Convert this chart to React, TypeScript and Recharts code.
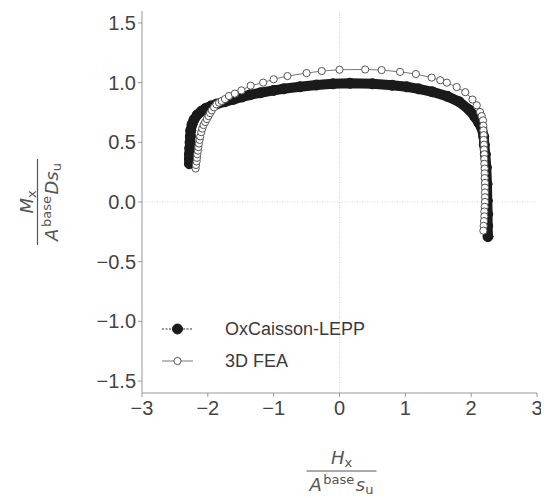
import React from 'react';
import { ComposedChart, Line, XAxis, YAxis, ReferenceLine, Legend, Label } from 'recharts';

// OxCaisson-LEPP (dense black markers)
const lepp = [
  { x: -2.28, y: 0.32 }, { x: -2.28, y: 0.36 }, { x: -2.28, y: 0.40 }, { x: -2.275, y: 0.45 },
  { x: -2.27, y: 0.50 }, { x: -2.265, y: 0.55 }, { x: -2.26, y: 0.60 }, { x: -2.24, y: 0.65 },
  { x: -2.21, y: 0.69 }, { x: -2.16, y: 0.73 }, { x: -2.10, y: 0.76 }, { x: -2.03, y: 0.785 },
  { x: -1.95, y: 0.805 }, { x: -1.87, y: 0.82 }, { x: -1.74, y: 0.84 }, { x: -1.61, y: 0.86 },
  { x: -1.48, y: 0.88 }, { x: -1.36, y: 0.898 }, { x: -1.2, y: 0.915 }, { x: -1.0, y: 0.935 },
  { x: -0.85, y: 0.948 }, { x: -0.6, y: 0.965 }, { x: -0.35, y: 0.98 }, { x: -0.1, y: 0.99 },
  { x: 0.16, y: 0.995 }, { x: 0.5, y: 0.99 }, { x: 0.8, y: 0.978 }, { x: 1.02, y: 0.965 },
  { x: 1.2, y: 0.948 }, { x: 1.41, y: 0.923 }, { x: 1.64, y: 0.885 }, { x: 1.82, y: 0.839 },
  { x: 1.97, y: 0.772 }, { x: 2.06, y: 0.71 }, { x: 2.12, y: 0.66 }, { x: 2.16, y: 0.62 },
  { x: 2.19, y: 0.55 }, { x: 2.2, y: 0.48 }, { x: 2.215, y: 0.40 }, { x: 2.23, y: 0.29 },
  { x: 2.24, y: 0.15 }, { x: 2.245, y: 0.01 }, { x: 2.25, y: -0.1 }, { x: 2.25, y: -0.2 },
  { x: 2.255, y: -0.29 },
];

// 3D FEA (white markers)
const fea = [
  { x: -2.185, y: 0.28 }, { x: -2.18, y: 0.31 }, { x: -2.17, y: 0.34 }, { x: -2.165, y: 0.37 },
  { x: -2.16, y: 0.40 }, { x: -2.15, y: 0.43 }, { x: -2.145, y: 0.46 }, { x: -2.135, y: 0.49 },
  { x: -2.125, y: 0.52 }, { x: -2.115, y: 0.55 }, { x: -2.1, y: 0.585 }, { x: -2.085, y: 0.615 },
  { x: -2.065, y: 0.645 }, { x: -2.04, y: 0.67 }, { x: -2.015, y: 0.695 }, { x: -1.99, y: 0.72 },
  { x: -1.965, y: 0.745 }, { x: -1.94, y: 0.768 }, { x: -1.905, y: 0.793 }, { x: -1.87, y: 0.818 },
  { x: -1.83, y: 0.832 }, { x: -1.79, y: 0.846 }, { x: -1.74, y: 0.862 }, { x: -1.68, y: 0.888 },
  { x: -1.59, y: 0.908 }, { x: -1.49, y: 0.935 }, { x: -1.35, y: 0.975 }, { x: -1.16, y: 1.0 },
  { x: -1.0, y: 1.028 }, { x: -0.79, y: 1.055 }, { x: -0.5, y: 1.08 }, { x: -0.27, y: 1.097 },
  { x: 0.0, y: 1.108 }, { x: 0.39, y: 1.11 }, { x: 0.64, y: 1.105 }, { x: 0.92, y: 1.09 },
  { x: 1.16, y: 1.072 }, { x: 1.40, y: 1.042 }, { x: 1.53, y: 1.02 }, { x: 1.63, y: 1.0 },
  { x: 1.78, y: 0.963 }, { x: 1.91, y: 0.92 }, { x: 2.02, y: 0.858 }, { x: 2.085, y: 0.81 },
  { x: 2.135, y: 0.754 }, { x: 2.16, y: 0.72 }, { x: 2.18, y: 0.684 }, { x: 2.185, y: 0.64 },
  { x: 2.185, y: 0.60 }, { x: 2.19, y: 0.56 }, { x: 2.19, y: 0.52 }, { x: 2.195, y: 0.48 },
  { x: 2.195, y: 0.44 }, { x: 2.2, y: 0.40 }, { x: 2.2, y: 0.36 }, { x: 2.2, y: 0.32 },
  { x: 2.205, y: 0.28 }, { x: 2.205, y: 0.24 }, { x: 2.205, y: 0.20 }, { x: 2.21, y: 0.16 },
  { x: 2.21, y: 0.12 }, { x: 2.21, y: 0.08 }, { x: 2.21, y: 0.04 }, { x: 2.21, y: 0.0 },
  { x: 2.205, y: -0.04 }, { x: 2.2, y: -0.08 }, { x: 2.2, y: -0.12 }, { x: 2.195, y: -0.16 },
  { x: 2.19, y: -0.2 }, { x: 2.185, y: -0.24 },
];

const xTicks = [-3, -2, -1, 0, 1, 2, 3];
const yTicks = [-1.5, -1.0, -0.5, 0.0, 0.5, 1.0, 1.5];
const seriesNames = ['OxCaisson-LEPP', '3D FEA'];

const minus = (s: string) => s.replace('-', '\u2212');
const tickFont = { fill: '#444', fontSize: 20, fontFamily: 'Liberation Sans, Arial, sans-serif' };
const labelFont = 'DejaVu Sans, sans-serif';
const MAIN = 18;
const SCRIPT = 13;

const XLabel = (props: any) => {
  const vb = props.viewBox || {};
  const cx = vb.x + vb.width / 2 + 2;
  const by = vb.y + vb.height + 48;
  return (
    <g fill="#555" fontFamily={labelFont}>
      <text x={cx} y={by - 7} textAnchor="middle" fontSize={MAIN}>
        <tspan fontStyle="italic">H</tspan>
        <tspan fontSize={SCRIPT} dy={3}>x</tspan>
      </text>
      <line x1={cx - 35} x2={cx + 35} y1={by} y2={by} stroke="#555" strokeWidth={1.2} />
      <text x={cx} y={by + 20} textAnchor="middle" fontSize={MAIN}>
        <tspan fontStyle="italic">A</tspan>
        <tspan fontSize={SCRIPT} dx={1.5} dy={-7}>base</tspan>
        <tspan fontStyle="italic" dx={1.5} dy={7}>s</tspan>
        <tspan fontSize={SCRIPT} dy={3}>u</tspan>
      </text>
    </g>
  );
};

const YLabel = (props: any) => {
  const vb = props.viewBox || {};
  const cy = vb.y + vb.height / 2;
  const cx = 29.5;
  return (
    <g fill="#555" fontFamily={labelFont} transform={`translate(${cx},${cy}) rotate(-90)`}>
      <text x={0} y={-5} textAnchor="middle" fontSize={MAIN}>
        <tspan fontStyle="italic">M</tspan>
        <tspan fontSize={SCRIPT} dy={3}>x</tspan>
      </text>
      <line x1={-43} x2={43} y1={0} y2={0} stroke="#555" strokeWidth={1.2} />
      <text x={0} y={20} textAnchor="middle" fontSize={MAIN}>
        <tspan fontStyle="italic">A</tspan>
        <tspan fontSize={SCRIPT} dx={1.5} dy={-7}>base</tspan>
        <tspan fontStyle="italic" dx={1.5} dy={7}>Ds</tspan>
        <tspan fontSize={SCRIPT} dy={3}>u</tspan>
      </text>
    </g>
  );
};

const LegendBox = () => (
  <svg width={230} height={60} style={{ display: 'block' }}>
    <line x1={0} x2={31} y1={10} y2={10} stroke="#333" strokeWidth={1} strokeDasharray="2 1.5" />
    <circle cx={15.5} cy={10} r={5} fill="#1a1a1a" stroke="#1a1a1a" />
    <text x={63} y={10} dominantBaseline="central" fontSize={18} fill="#3a3a3a"
      fontFamily="Liberation Sans, Arial, sans-serif">{seriesNames[0]}</text>
    <line x1={0} x2={31} y1={42} y2={42} stroke="#777" strokeWidth={1} />
    <circle cx={15.5} cy={42} r={3.6} fill="#fff" stroke="#555" strokeWidth={1} />
    <text x={63} y={42} dominantBaseline="central" fontSize={18} fill="#3a3a3a"
      fontFamily="Liberation Sans, Arial, sans-serif">{seriesNames[1]}</text>
  </svg>
);

export default function App() {
  return (
    <ComposedChart width={541} height={490} margin={{ top: 3, right: 12, bottom: 75, left: 0 }}>
      <XAxis type="number" dataKey="x" domain={[-3, 3]} ticks={xTicks} allowDataOverflow
        height={30} tickSize={4} tickMargin={4} stroke="#999" tick={tickFont}
        tickFormatter={(v: number) => minus(String(v))}>
        <Label content={XLabel} />
      </XAxis>
      <YAxis type="number" dataKey="y" domain={[-1.6, 1.6]} ticks={yTicks} allowDataOverflow
        width={134} tickSize={4} tickMargin={2} stroke="#999" tick={tickFont}
        tickFormatter={(v: number) => minus(v.toFixed(1))}>
        <Label content={YLabel} />
      </YAxis>
      <ReferenceLine x={0} stroke="#c8c8c8" strokeDasharray="1 1.5" strokeWidth={0.8} />
      <ReferenceLine y={0} stroke="#c8c8c8" strokeDasharray="1 1.5" strokeWidth={0.8} />
      <Line data={lepp} dataKey="y" name={seriesNames[0]} type="linear" stroke="#1a1a1a"
        strokeWidth={10} strokeLinecap="round" strokeLinejoin="round"
        dot={{ r: 5, fill: '#1a1a1a', stroke: '#1a1a1a', strokeWidth: 1 }} isAnimationActive={false} />
      <Line data={fea} dataKey="y" name={seriesNames[1]} type="linear" stroke="#777" strokeWidth={1}
        dot={{ r: 3.6, fill: '#fff', stroke: '#555', strokeWidth: 1 }} isAnimationActive={false} />
      <Legend layout="horizontal" verticalAlign="middle" align="center" content={LegendBox}
        wrapperStyle={{ left: 154, top: 311, width: 'auto' }} />
    </ComposedChart>
  );
}
